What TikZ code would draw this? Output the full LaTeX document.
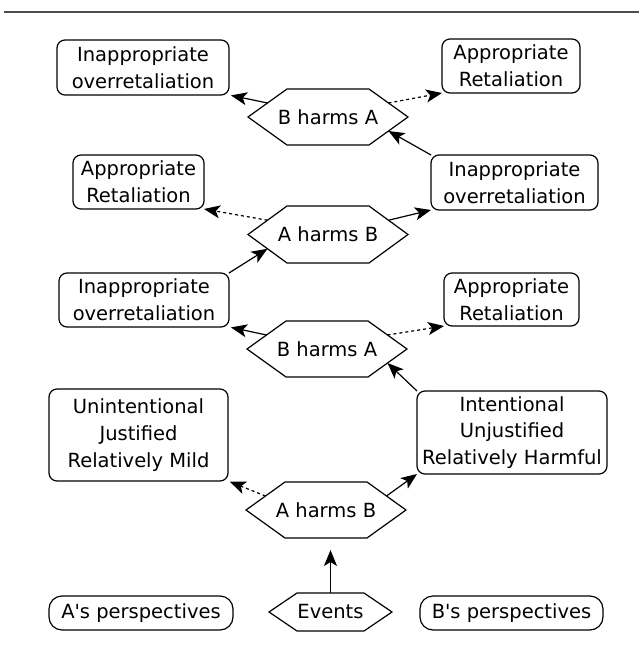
\documentclass[tikz,border=0pt]{standalone}
\usepackage{fontspec}
\setmainfont{DejaVu Sans}[Ligatures=TeXOff]
\usetikzlibrary{arrows.meta,calc}
\newcommand\hexdraw[2]{\draw[hexline] (#1.west) -- ([xshift=#2]#1.north west) -- ([xshift=-#2]#1.north east) -- (#1.east) -- ([xshift=-#2]#1.south east) -- ([xshift=#2]#1.south west) -- cycle;
  \coordinate (#1ul) at ($(#1.west)!0.5!([xshift=#2]#1.north west)$);
  \coordinate (#1ur) at ($(#1.east)!0.5!([xshift=-#2]#1.north east)$);
  \coordinate (#1ll) at ($(#1.west)!0.5!([xshift=#2]#1.south west)$);
  \coordinate (#1lr) at ($(#1.east)!0.5!([xshift=-#2]#1.south east)$);}
\begin{document}
\begin{tikzpicture}[x=1pt,y=-1pt,
  txt/.style={font=\fontsize{19.5}{26.7}\selectfont},
  box/.style={txt,draw,line width=1.2pt,rounded corners=8pt,align=center,inner sep=0pt,outer sep=0pt},
  pill/.style={box,rounded corners=13pt},
  hex/.style={txt,inner sep=0pt,outer sep=0pt,minimum width=160pt,minimum height=56pt},
  hexline/.style={line width=1.2pt,line join=miter},
  arr/.style={line width=1.2pt,-{Stealth[length=16pt,width=13pt,inset=4pt]}},
  darr/.style={arr,dash pattern=on 3pt off 3pt}]
\fill[white] (0,0) rectangle (639,671);
\useasboundingbox (0,0) rectangle (639,671);
\draw[line width=1.5pt,black!70] (4,12) -- (639,12);

% boxes
\node[box,minimum width=172pt,minimum height=55pt] (n1) at (143,67.5) {Inappropriate\\overretaliation};
\node[box,minimum width=138pt,minimum height=54pt] (n2) at (511,66) {Appropriate\\Retaliation};
\node[box,minimum width=131pt,minimum height=54pt] (n3) at (138.5,182) {Appropriate\\Retaliation};
\node[box,minimum width=167pt,minimum height=55pt] (n4) at (514.5,182.5) {Inappropriate\\overretaliation};
\node[box,minimum width=170pt,minimum height=54pt] (n5) at (144,300) {Inappropriate\\overretaliation};
\node[box,minimum width=135pt,minimum height=53pt] (n6) at (511.5,299.5) {Appropriate\\Retaliation};
\node[box,minimum width=179pt,minimum height=92pt] (n7) at (138.5,435) {Unintentional\\Justified\\Relatively Mild};
\node[box,minimum width=190pt,minimum height=83pt] (n8) at (512,432.5) {Intentional\\Unjustified\\Relatively Harmful};
\node[pill,minimum width=184pt,minimum height=34pt] (pa) at (141,613) {A's perspectives};
\node[pill,minimum width=183pt,minimum height=34pt] (pb) at (511.5,613) {B's perspectives};

% hexagons
\node[hex] (h1) at (328,117) {B harms A};
\node[hex,minimum height=57pt] (h2) at (328,234.5) {A harms B};
\node[hex] (h3) at (327,349) {B harms A};
\node[hex] (h4) at (326,510) {A harms B};
\node[hex,minimum width=123pt,minimum height=38pt] (ev) at (330.5,612) {Events};
\hexdraw{h1}{39pt}
\hexdraw{h2}{39pt}
\hexdraw{h3}{39pt}
\hexdraw{h4}{39pt}
\hexdraw{ev}{28pt}

% connectors
\draw[arr,shorten >=2pt] (h1ul) -- (n1.south east);
\draw[darr] (h1ur) -- (n2.south west);
\draw[arr] (n4.north west) -- (h1lr);
\draw[darr] (h2ul) -- (n3.south east);
\draw[arr] (h2ur) -- (n4.south west);
\draw[arr] (n5.north east) -- (h2ll);
\draw[arr,shorten >=2pt] (h3ul) -- (n5.south east);
\draw[darr] (h3ur) -- (n6.south west);
\draw[arr] (n8.north west) -- (h3lr);
\draw[darr,shorten >=2pt] (h4ul) -- (n7.south east);
\draw[arr] (h4ur) -- (n8.south west);
\draw[arr,shorten >=12pt] (ev.north) -- (ev.north |- h4.south);
\end{tikzpicture}
\end{document}
